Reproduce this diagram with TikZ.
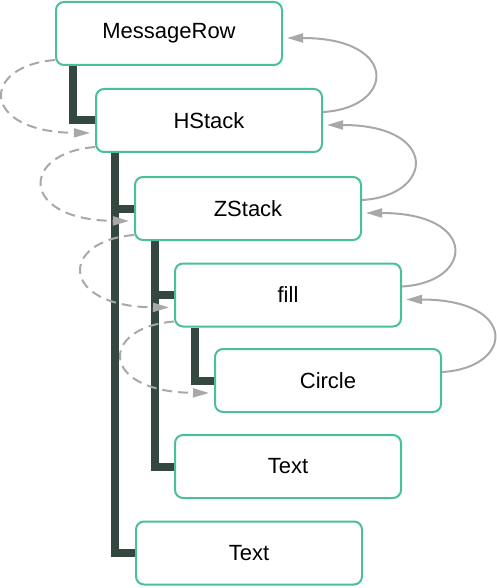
\documentclass[tikz,border=0pt]{standalone}
\usepackage{fontspec}
\setmainfont{Liberation Sans}
\usetikzlibrary{arrows.meta,calc}
\definecolor{boxgreen}{HTML}{4BBF98}
\definecolor{treedark}{HTML}{344840}
\definecolor{arrowgrey}{HTML}{A8A8A8}
\pgfdeclarelayer{background}
\pgfsetlayers{background,main}
\begin{document}
\begin{tikzpicture}[x=1pt,y=-1pt,
  box/.style={draw=boxgreen, line width=2pt, fill=white, rounded corners=8pt,
    minimum width=226pt, minimum height=63pt, inner sep=0pt,
    font=\fontsize{22}{26}\selectfont},
  treeline/.style={draw=treedark, line width=8pt},
  callarrow/.style={draw=arrowgrey, line width=2pt, dash pattern=on 10pt off 6pt,
    -{Triangle[length=16pt,width=9pt]}},
  retarrow/.style={draw=arrowgrey, line width=2pt,
    -{Triangle[length=16pt,width=9pt]}}]
\useasboundingbox (0,0) rectangle (496,588);

\node[box] (mr) at (169,33.5) {MessageRow};
\node[box] (hs) at (209,120.5) {HStack};
\node[box] (zs) at (248,208.5) {ZStack};
\node[box] (fl) at (288,295) {fill};
\node[box] (ci) at (328,380.5) {Circle};
\node[box] (t1) at (288,466.5) {Text};
\node[box] (t2) at (249,553) {Text};

\begin{pgfonlayer}{background}
  \draw[treeline] ([xshift=18pt]mr.south west) |- (hs.west);
  \draw[treeline] ([xshift=20pt]hs.south west) |- (zs.west);
  \draw[treeline] ([xshift=20pt]hs.south west) |- (t2.west);
  \draw[treeline] ([xshift=21pt]zs.south west) |- (fl.west);
  \draw[treeline] ([xshift=21pt]zs.south west) |- (t1.west);
  \draw[treeline] ([xshift=21pt]fl.south west) |- (ci.west);
\end{pgfonlayer}

% calls (dashed, left side)
\draw[callarrow] ([yshift=6pt]mr.south west)
  .. controls ($(mr.south west)+(-75,0)$) and ($(hs.south west)+(-115,-21)$)
  .. ([xshift=-5pt,yshift=20pt]hs.south west);
\draw[callarrow] ([yshift=6pt]hs.south west)
  .. controls ($(hs.south west)+(-75,0)$) and ($(zs.south west)+(-115,-21)$)
  .. ([xshift=-5pt,yshift=20pt]zs.south west);
\draw[callarrow] ([yshift=6pt]zs.south west)
  .. controls ($(zs.south west)+(-75,0)$) and ($(fl.south west)+(-115,-21)$)
  .. ([xshift=-5pt,yshift=20pt]fl.south west);
\draw[callarrow] ([yshift=6pt]fl.south west)
  .. controls ($(fl.south west)+(-75,0)$) and ($(ci.south west)+(-115,-21)$)
  .. ([xshift=-5pt,yshift=20pt]ci.south west);

% returns (solid, right side)
\draw[retarrow] ([yshift=-24pt]hs.north east)
  .. controls ($(hs.north east)+(72,20)$) and ($(mr.north east)+(117,37)$)
  .. ([xshift=4pt,yshift=-37pt]mr.north east);
\draw[retarrow] ([yshift=-24pt]zs.north east)
  .. controls ($(zs.north east)+(72,20)$) and ($(hs.north east)+(117,37)$)
  .. ([xshift=4pt,yshift=-37pt]hs.north east);
\draw[retarrow] ([yshift=-24pt]fl.north east)
  .. controls ($(fl.north east)+(72,20)$) and ($(zs.north east)+(117,37)$)
  .. ([xshift=4pt,yshift=-37pt]zs.north east);
\draw[retarrow] ([yshift=-24pt]ci.north east)
  .. controls ($(ci.north east)+(72,20)$) and ($(fl.north east)+(117,37)$)
  .. ([xshift=4pt,yshift=-37pt]fl.north east);
\end{tikzpicture}
\end{document}
